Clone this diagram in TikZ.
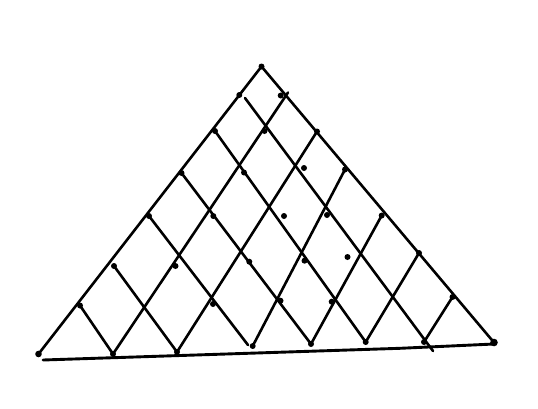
\documentclass[tikz,border=0pt]{standalone}
\tikzset{
  stroke/.style={line width=2.6pt, black, line cap=round},
  basestroke/.style={line width=2.9pt, black, line cap=round},
  pt/.style={fill=black},
}
\begin{document}
\begin{tikzpicture}[x=1pt,y=-1pt]
\useasboundingbox[fill=white] (0,0) rectangle (538,408);
% side dots
\coordinate (A) at (261.5,66.5);
\coordinate (L1) at (239.3,95);
\coordinate (L2) at (215,131);
\coordinate (L3) at (181.5,173);
\coordinate (L4) at (149,216);
\coordinate (L5) at (114,266);
\coordinate (L6) at (80,305.5);
\coordinate (LC) at (38.5,354);
\coordinate (R1) at (280.7,95.5);
\coordinate (R2) at (317,131.5);
\coordinate (R3) at (345,169.5);
\coordinate (R4) at (381.7,215.5);
\coordinate (R5) at (419,253);
\coordinate (R6) at (452.5,297);
\coordinate (RC) at (494,342.5);
\coordinate (B1) at (113,354);
\coordinate (B2) at (177,352);
\coordinate (B3) at (252.7,346);
\coordinate (B4) at (311,344);
\coordinate (B5) at (365.7,342);
\coordinate (B6) at (424,342);
% free line ends
\coordinate (L1s) at (245,98);
\coordinate (L1e) at (433,351);
\coordinate (R1s) at (288,92.5);
\coordinate (L4e) at (248,345);
\coordinate (base0) at (43,360);
\coordinate (base1) at (400,348.3);
\coordinate (base2) at (494,344);
% interior dots
\coordinate (P1) at (264.5,131);
\coordinate (P2) at (244,172.5);
\coordinate (P3) at (304,168);
\coordinate (P4) at (213.3,216);
\coordinate (P5) at (284,216);
\coordinate (P6) at (327,215);
\coordinate (P7) at (175.5,266);
\coordinate (P8) at (249.3,261.7);
\coordinate (P9) at (304.5,260.7);
\coordinate (P10) at (347.5,257);
\coordinate (P11) at (213,304);
\coordinate (P12) at (280.5,300.7);
\coordinate (P13) at (331.7,301.7);

% outline
\draw[stroke] (LC) -- (A) -- (RC);
\draw[basestroke] (base0) -- (base1) -- (base2);
% lines parallel to the right side
\draw[stroke] (L1s) -- (L1e);
\draw[stroke] (L2) -- (B5);
\draw[stroke] (L3) -- (B4);
\draw[stroke] (L4) -- (L4e);
\draw[stroke] (L5) -- (B2);
\draw[stroke] (L6) -- (B1);
% lines parallel to the left side
\draw[stroke] (R1s) -- (B1);
\draw[stroke] (R2) -- (B2);
\draw[stroke] (R3) -- (B3);
\draw[stroke] (R4) -- (B4);
\draw[stroke] (R5) -- (B5);
\draw[stroke] (R6) -- (B6);

% dots
\foreach \p in {A,L1,L2,L3,L4,L5,L6,R1,R2,R3,R4,R5,R6,B1,B2,B3,B4,B5,B6}
  \fill[pt] (\p) circle (3pt);
\fill[pt] (LC) circle (3.3pt);
\fill[pt] (RC) circle (3.8pt);
\foreach \p in {P1,P2,P3,P4,P5,P6,P7,P8,P9,P10,P11,P12,P13}
  \fill[pt] (\p) circle (3pt);
\end{tikzpicture}
\end{document}
